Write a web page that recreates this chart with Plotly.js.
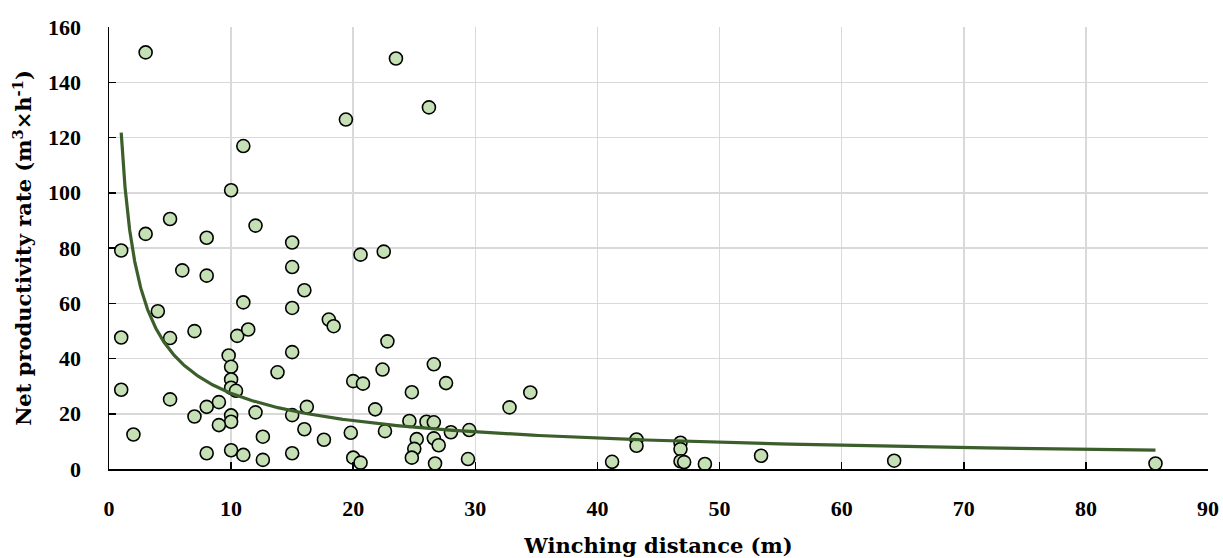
<!DOCTYPE html>
<html>
<head>
<meta charset="utf-8">
<script src="https://cdn.plot.ly/plotly-3.0.1.min.js"></script>
<style>html,body{margin:0;padding:0;background:#fff;}#chart{width:1223px;height:558px;}</style>
</head>
<body>
<div id="chart"></div>
<script>
// Winching distance (m)
const winchingDistance = [
  3.0, 23.5, 26.2, 19.4, 11.0, 10.0, 5.0, 3.0, 8.0, 12.0,
  15.0, 1.0, 6.0, 8.0, 15.0, 16.0, 11.0, 15.0, 4.0, 18.0,
  18.4, 1.0, 5.0, 7.0, 10.5, 11.4, 15.0, 9.8, 10.0, 10.0,
  10.0, 10.4, 13.8, 1.0, 5.0, 9.0, 8.0, 7.0, 10.0, 10.0,
  9.0, 12.0, 15.0, 16.2, 16.0, 12.6, 17.6, 2.0, 8.0, 10.0,
  11.0, 12.6, 15.0, 20.6, 22.5, 22.8, 20.0, 20.8, 22.4, 26.6,
  27.6, 24.8, 21.8, 32.8, 34.5, 19.8, 22.6, 24.6, 26.0, 26.6,
  28.0, 29.5, 25.2, 26.6, 27.0, 25.0, 24.8, 20.0, 20.6, 26.7,
  29.4, 41.2, 43.2, 43.2, 46.8, 46.8, 46.8, 47.1, 48.8, 53.4,
  64.3, 85.7
];
// Net productivity rate (m3/h)
const productivity = [
  150.8, 148.6, 130.9, 126.5, 116.9, 100.9, 90.5, 85.1, 83.7, 88.1,
  82.0, 79.1, 71.9, 70.0, 73.1, 64.7, 60.3, 58.3, 57.1, 54.1,
  51.7, 47.6, 47.4, 49.9, 48.2, 50.5, 42.3, 41.1, 37.0, 32.4,
  29.4, 28.3, 35.0, 28.7, 25.2, 24.2, 22.5, 19.0, 19.4, 17.1,
  15.9, 20.5, 19.5, 22.5, 14.4, 11.7, 10.6, 12.5, 5.7, 6.8,
  5.1, 3.3, 5.7, 77.6, 78.7, 46.2, 31.8, 30.9, 36.0, 37.9,
  31.1, 27.8, 21.6, 22.3, 27.7, 13.1, 13.7, 17.4, 17.1, 16.9,
  13.3, 14.1, 10.8, 11.1, 8.6, 7.3, 4.1, 4.1, 2.3, 2.0,
  3.6, 2.6, 10.7, 8.4, 9.5, 7.2, 2.8, 2.5, 1.8, 4.8,
  3.0, 2.0
];
const xTickValues = [0, 10, 20, 30, 40, 50, 60, 70, 80, 90];
const yTickValues = [0, 20, 40, 60, 80, 100, 120, 140, 160];

// Power trendline (least squares in log-log space, as a spreadsheet power trendline)
function powerFit(xs, ys) {
  let n = 0, sx = 0, sy = 0, sxx = 0, sxy = 0;
  for (let i = 0; i < xs.length; i++) {
    const lx = Math.log(xs[i]), ly = Math.log(ys[i]);
    n++; sx += lx; sy += ly; sxx += lx * lx; sxy += lx * ly;
  }
  const b = (n * sxy - sx * sy) / (n * sxx - sx * sx);
  const a = Math.exp((sy - b * sx) / n);
  return {a, b};
}
const fit = powerFit(winchingDistance, productivity);
const xMin = Math.min(...winchingDistance), xMax = Math.max(...winchingDistance);
const trendX = [], trendY = [];
for (let i = 0; i <= 300; i++) {
  const x = xMin * Math.pow(xMax / xMin, i / 300);
  trendX.push(x); trendY.push(fit.a * Math.pow(x, fit.b));
}

const tickFontFamily = "'Liberation Serif', 'Times New Roman', serif";
const titleFontFamily = "'DejaVu Serif', 'Liberation Serif', serif";
const traces = [
  {
    x: winchingDistance, y: productivity, type: 'scatter', mode: 'markers',
    marker: {size: 13, color: '#c5e0b4', line: {color: '#000', width: 1.6}},
    hoverinfo: 'x+y', showlegend: false
  },
  {
    x: trendX, y: trendY, type: 'scatter', mode: 'lines',
    line: {color: '#3b5e2b', width: 3.2}, hoverinfo: 'skip', showlegend: false
  }
];
const layout = {
  width: 1223, height: 558,
  margin: {l: 109, r: 15, t: 27, b: 89},
  paper_bgcolor: '#fff', plot_bgcolor: '#fff',
  font: {family: tickFontFamily, color: '#000', size: 16},
  xaxis: {
    range: [0, 90], tickvals: xTickValues, ticktext: xTickValues.map(String),
    showgrid: true, gridcolor: '#d9d9d9', gridwidth: 1.5,
    showline: true, linecolor: '#000', linewidth: 1.5,
    ticks: 'inside', ticklen: 7, tickwidth: 1.5, tickcolor: '#000',
    ticklabelstandoff: 19,
    tickfont: {family: tickFontFamily, size: 22, weight: 'bold', color: '#000'},
    zeroline: false,
    title: {text: 'Winching distance (m)', font: {family: titleFontFamily, size: 21, weight: 'bold', color: '#000'}, standoff: 20}
  },
  yaxis: {
    range: [0, 160], tickvals: yTickValues, ticktext: yTickValues.map(String),
    showgrid: true, gridcolor: '#d9d9d9', gridwidth: 1.5,
    showline: true, linecolor: '#000', linewidth: 1.5,
    ticks: 'inside', ticklen: 7, tickwidth: 1.5, tickcolor: '#000',
    ticklabelstandoff: 22,
    tickfont: {family: tickFontFamily, size: 22, weight: 'bold', color: '#000'},
    zeroline: false,
    title: {text: 'Net productivity rate (m<sup>3</sup>×h<sup>-1</sup>)', font: {family: titleFontFamily, size: 21, weight: 'bold', color: '#000'}, standoff: 10}
  }
};
Plotly.newPlot('chart', traces, layout, {staticPlot: true, displayModeBar: false});
</script>
</body>
</html>
